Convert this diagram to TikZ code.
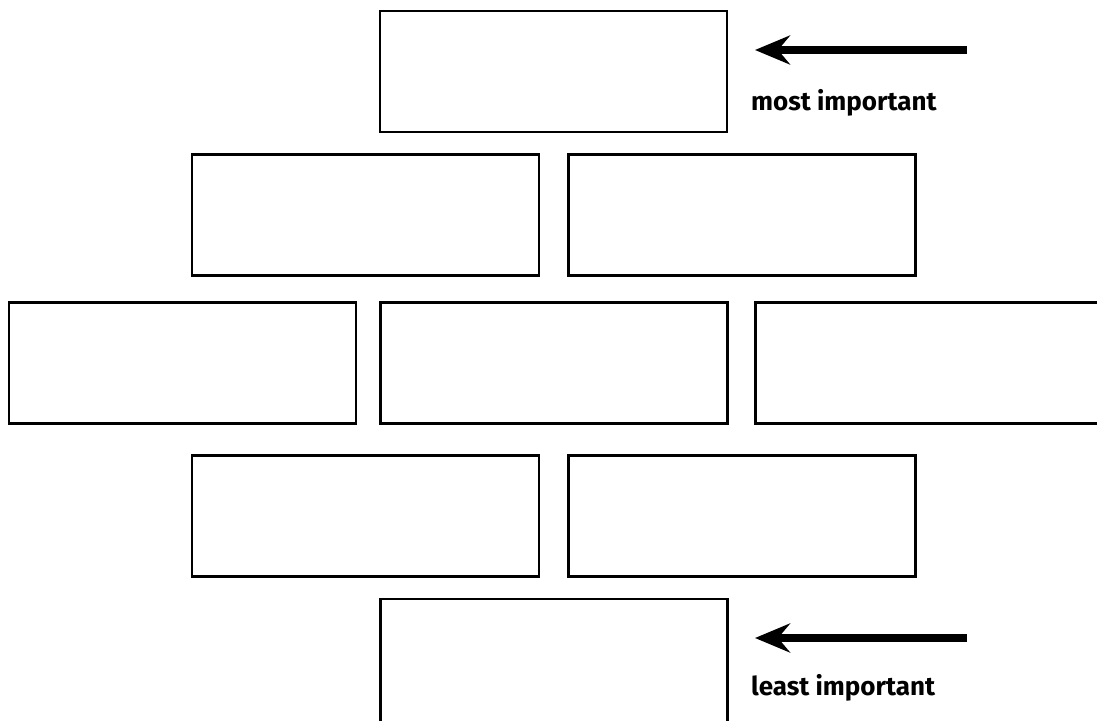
\documentclass[tikz,border=0pt]{standalone}
\usepackage{fontspec}
\setmainfont{Fira Sans}
\usetikzlibrary{arrows.meta}
\tikzset{brick/.style={draw=black,line width=1.4pt,minimum width=6.94cm,minimum height=2.42cm,inner sep=0pt}}
\tikzset{label/.style={anchor=west,font=\bfseries\fontsize{14.8}{17}\selectfont}}

\begin{document}
\begin{tikzpicture}[x=0.02cm,y=-0.02cm]
\useasboundingbox (0,0) rectangle (1097,720);
\clip (0,0) rectangle (1097,720);

\node[brick] (top) at (553.5,71.5) {};
\node[brick] (upL) at (365.5,215) {};
\node[brick] (upR) at (742,215) {};
\node[brick] (midL) at (182.5,363) {};
\node[brick] (midC) at (554,363) {};
\node[brick] (midR) at (929,363) {};
\node[brick] (lowL) at (365.5,516) {};
\node[brick] (lowR) at (742,516) {};
\node[brick,minimum height=2.7cm] (bot) at (554,666.5) {};

\coordinate (a1) at (967,50);
\coordinate (b1) at (755,50);
\coordinate (a2) at (967,638);
\coordinate (b2) at (755,638);
\draw [-{Stealth[length=0.7cm,width=0.58cm,inset=0.24cm]},line width=4.4pt] (a1)--(b1);
\draw [-{Stealth[length=0.7cm,width=0.58cm,inset=0.24cm]},line width=4.4pt] (a2)--(b2);

\node[label] (most) at (745,103) {most important};
\node[label] (least) at (745,688) {least important};

\end{tikzpicture}
\end{document}
